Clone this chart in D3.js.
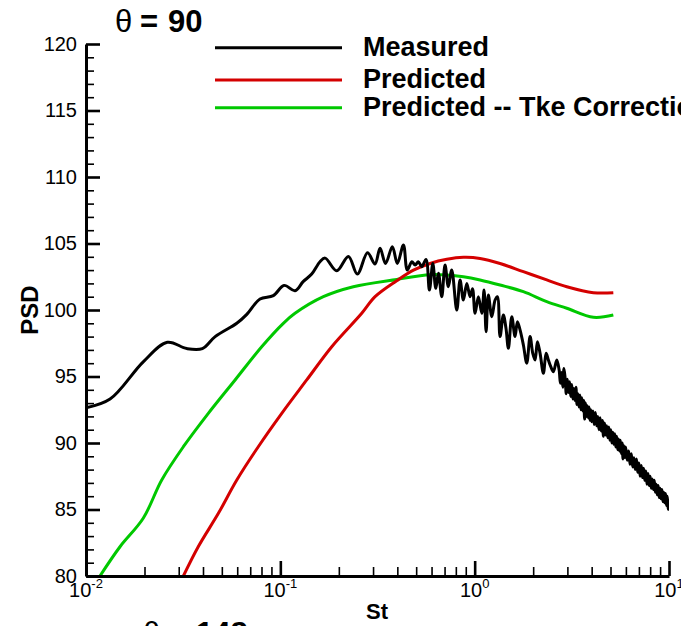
<!DOCTYPE html>
<html><head><meta charset="utf-8">
<script src="https://cdn.jsdelivr.net/npm/d3@7"></script>
<style>
body{margin:0;background:#fff;overflow:hidden}
svg{display:block}
text{font-family:"Liberation Sans",Arial,Helvetica,sans-serif;fill:#000}
</style>
</head><body>
<svg id="chart" width="681" height="626"></svg>
<script>
// ---------------- data ----------------
const measuredSt = [0.0100,0.0133,0.0197,0.0262,0.0330,0.0397,0.0462,0.0597,0.0672,0.0786,0.0920,0.1045,0.119,0.131,0.145,0.160,0.170,0.195,0.224,0.249,0.281,0.307,0.326,0.348,0.377,0.400,0.430,0.450,0.475,0.494,0.513,0.534,0.562,0.585,0.609,0.631,0.651,0.677,0.704,0.732,0.762,0.809,0.841,0.875,0.911,0.947,0.975,1.005,1.045,1.088,1.118,1.145,1.176,1.225,1.274,1.309,1.351,1.405,1.450,1.491,1.552,1.614,1.659,1.712,1.781,1.854,1.928,1.991,2.046,2.103,2.171,2.258,2.331,2.395,2.464,2.541,2.645,
  2.72,2.76,2.80,2.84,2.88,2.92,2.96,3.00,3.04,3.08,3.12,3.16,3.20,3.24,3.28,3.32,3.36,3.40,3.44,3.48,3.52,3.56,3.60,3.64,3.68,3.72,3.76,3.80,3.84,3.88,3.92,3.96,4.00,
  4.06,4.12,4.18,4.24,4.30,4.36,4.42,4.48,4.54,4.60,4.66,4.72,4.78,4.84,4.90,4.96,5.02,5.08,5.14,5.20,5.26,5.32,5.38,5.44,5.50,5.56,5.62,5.68,5.74,5.80,5.86,5.92,5.98,
  6.1,6.2,6.3,6.4,6.5,6.6,6.7,6.8,6.9,7.0,7.1,7.2,7.3,7.4,7.5,7.6,7.7,7.8,7.9,8.0,8.1,8.2,8.3,8.4,8.5,8.6,8.7,8.8,8.9,9.0,9.1,9.2,9.3,9.4,9.5,9.6,9.7,9.8,9.9,10.0];
const measuredPsd = [92.65,93.3,96.1,97.57,97.1,97.1,98.0,99.0,99.67,100.83,101.08,101.85,101.45,102.13,102.7,103.63,103.9,102.95,104.03,102.7,104.3,103.46,104.64,103.5,104.76,103.5,104.89,103.0,103.63,103.38,103.63,103.26,103.8,101.5,103.5,101.63,102.76,101.0,103.38,101.75,103.0,100.0,102.26,100.75,102.0,101.0,101.6,99.75,101.0,99.75,101.5,98.37,101.13,99.5,100.75,101.0,98.0,99.62,98.6,97.12,99.5,98.0,99.12,98.5,97.37,96.0,98.0,96.74,96.24,97.62,96.74,95.24,96.74,96.24,95.74,95.36,96.24,
  95.5,94.5,95.3,94.2,95.6,94.9,93.7,94.8,93.8,94.6,93.5,94.4,93.3,94.1,93.2,94.2,92.9,93.7,92.7,93.6,92.5,93.4,92.4,93.2,91.8,93.0,92.0,92.8,91.9,92.7,91.7,92.5,91.6,
  92.4,91.4,92.3,91.3,92.0,91.0,91.9,90.9,91.7,90.5,91.5,90.6,91.3,90.4,91.2,90.2,91.0,90.0,90.8,89.9,90.7,89.7,90.5,89.5,90.3,89.4,90.2,89.2,90.0,88.8,89.8,88.9,89.7,
  88.7,89.4,88.4,89.2,88.2,88.9,88.0,88.8,87.8,88.5,87.5,88.3,87.4,88.1,87.2,87.9,86.9,87.7,86.8,87.5,86.6,87.3,86.5,87.2,86.3,86.9,86.1,86.8,85.9,86.6,85.8,86.5,85.6,86.3,85.5,86.2,85.3,86.0,85.0,85.7];

const predictedSt  = [0.0317,0.0378,0.048,0.0597,0.077,0.1017,0.1367,0.1839,0.2624,0.3072,0.397,0.484,0.590,0.719,0.875,1.066,1.351,1.781,2.350,2.978,4.083,5.17];
const predictedPsd = [80.0,82.2,84.71,87.22,89.72,92.23,94.74,97.24,99.75,101.0,102.2,103.0,103.5,103.81,103.96,103.88,103.5,102.88,102.26,101.75,101.3,101.3];

const tkeSt  = [0.0118,0.01496,0.0197,0.02453,0.0317,0.0426,0.0585,0.0802,0.1036,0.119,0.1665,0.2375,0.397,0.590,0.719,0.875,1.066,1.351,1.781,2.350,2.978,4.083,5.17];
const tkePsd = [80.0,82.2,84.34,87.22,89.72,92.23,94.74,97.24,99.0,99.75,101.0,101.75,102.3,102.65,102.63,102.5,102.26,101.88,101.38,100.63,100.13,99.45,99.62];

const seriesNames  = ["Measured","Predicted","Predicted -- Tke Correction"];
const seriesColors = ["#000000","#d40000","#00c800"];

const yMajorTicks = [80,85,90,95,100,105,110,115,120];
const xMajorTicks = [0.01,0.1,1,10];
const xTickExponents = ["-2","-1","0","1"];
const titleValue = "90";
const nextTitleValue = "148";

// ---------------- drawing ----------------
const svg = d3.select("#chart");
const x = d3.scaleLog().domain([0.01,10]).range([86,669]);
const y = d3.scaleLinear().domain([80,120]).range([576,44]);

svg.append("rect").attr("width",681).attr("height",626).attr("fill","#fff");

svg.append("defs").append("clipPath").attr("id","plotclip")
  .append("rect").attr("x",x.range()[0]).attr("y",y.range()[1])
  .attr("width",x.range()[1]-x.range()[0]).attr("height",y.range()[0]-y.range()[1]);

const line = d3.line().x(d=>x(d[0])).y(d=>y(d[1])).curve(d3.curveCatmullRom.alpha(0.5));
const series = [
  d3.zip(measuredSt, measuredPsd),
  d3.zip(predictedSt, predictedPsd),
  d3.zip(tkeSt, tkePsd)
];
const plot = svg.append("g").attr("clip-path","url(#plotclip)");
[2,1,0].forEach(i=>{
  plot.append("path").datum(series[i])
    .attr("fill","none").attr("stroke",seriesColors[i])
    .attr("stroke-width",3).attr("stroke-linejoin","round")
    .attr("d",line);
});

// minor tick values
const yMinor = d3.range(80,121,1).filter(v=>v%5!==0);
const xMinor = [];
[0.01,0.1,1].forEach(d=>{for(let k=2;k<=9;k++) xMinor.push(d*k);});

// x tick labels (10 with superscript exponents), drawn first so y labels sit on top
xMajorTicks.forEach((v,i)=>{
  const g = svg.append("g");
  const t = g.append("text").attr("x",x(v)).attr("y",597)
    .attr("text-anchor","middle").attr("font-size",20);
  t.append("tspan").text("10");
  t.append("tspan").attr("dy",-9).attr("font-size",13).text(xTickExponents[i]);
  const bb = t.node().getBBox();
  g.insert("rect","text").attr("x",bb.x-1).attr("y",bb.y+3).attr("width",bb.width+2).attr("height",bb.height-3).attr("fill","#fff");
});

// Y axis
const yAxisMinor = svg.append("g").attr("transform",`translate(${x.range()[0]},0)`)
  .call(d3.axisLeft(y).tickValues(yMinor).tickSize(-8).tickSizeOuter(0).tickFormat(""));
yAxisMinor.select(".domain").remove();
yAxisMinor.selectAll("line").attr("stroke","#000").attr("stroke-width",1.6);

const yAxis = svg.append("g").attr("transform",`translate(${x.range()[0]},0)`)
  .call(d3.axisLeft(y).tickValues(yMajorTicks).tickSize(-14).tickSizeOuter(0).tickPadding(9).tickFormat(d3.format("d")));
yAxis.select(".domain").attr("stroke","#000").attr("stroke-width",3);
yAxis.selectAll("line").attr("stroke","#000").attr("stroke-width",2.6);
yAxis.selectAll("text").attr("font-size",20).attr("font-family","Liberation Sans, Arial, sans-serif").attr("fill","#000");

// X axis
const xAxisMinor = svg.append("g").attr("transform",`translate(0,${y.range()[0]})`)
  .call(d3.axisBottom(x).tickValues(xMinor).tickSize(-9).tickSizeOuter(0).tickFormat(""));
xAxisMinor.select(".domain").remove();
xAxisMinor.selectAll("line").attr("stroke","#000").attr("stroke-width",1.6);

const xAxis = svg.append("g").attr("transform",`translate(0,${y.range()[0]})`)
  .call(d3.axisBottom(x).tickValues(xMajorTicks).tickSize(-15).tickSizeOuter(0).tickFormat(""));
xAxis.select(".domain").attr("stroke","#000").attr("stroke-width",3);
xAxis.selectAll("line").attr("stroke","#000").attr("stroke-width",2.6);

// axis titles
svg.append("text").attr("x",377).attr("y",619).attr("text-anchor","middle")
  .attr("font-size",22).attr("font-weight","bold").text("St");
svg.append("text").attr("transform","translate(38,310) rotate(-90)").attr("text-anchor","middle")
  .attr("font-size",24).attr("font-weight","bold").text("PSD");

// titles (this panel and the cut-off one of the next panel)
function panelTitle(x0, base, value){
  const g = svg.append("g");
  g.append("text").attr("x",x0).attr("y",base).attr("font-size",31)
    .attr("font-family","Liberation Serif, Times New Roman, serif").text("θ");
  g.append("text").attr("x",x0+25).attr("y",base).attr("font-size",31).attr("font-weight","bold").text("=");
  g.append("text").attr("x",x0+53).attr("y",base).attr("font-size",31).attr("font-weight","bold").text(value);
}
panelTitle(115, 32, titleValue);
panelTitle(143, 644, nextTitleValue);

// legend
const legY = [47.7,80,107.7];
seriesNames.forEach((name,i)=>{
  svg.append("line").attr("x1",215).attr("x2",342).attr("y1",legY[i]).attr("y2",legY[i])
    .attr("stroke",seriesColors[i]).attr("stroke-width",3);
  svg.append("text").attr("x",363).attr("y",legY[i]+8).attr("font-size",27).attr("font-weight","bold").text(name);
});
</script>
</body></html>
